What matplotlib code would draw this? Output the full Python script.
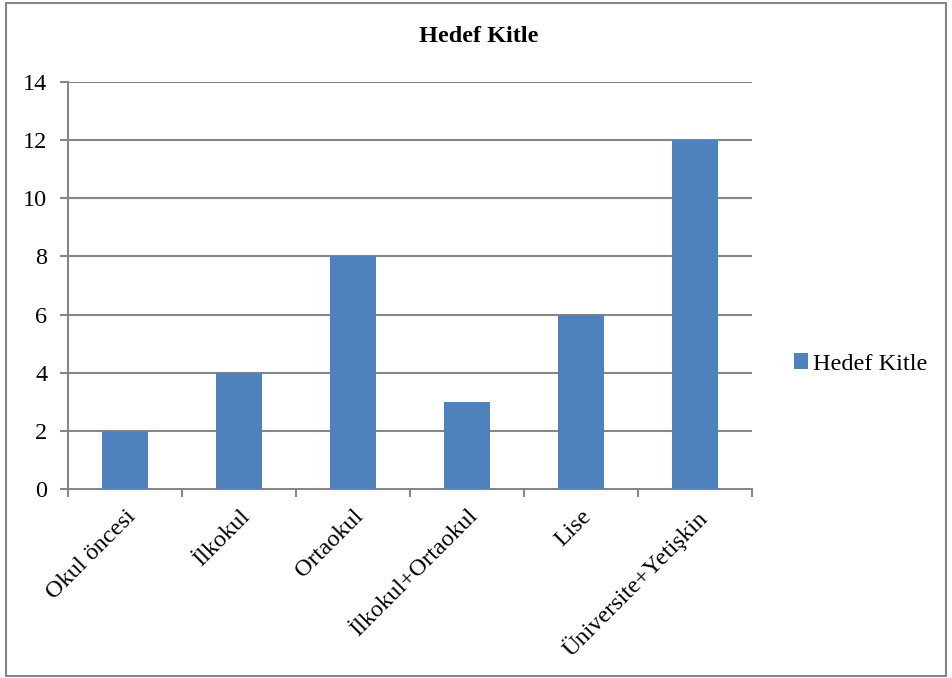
import matplotlib.pyplot as plt
from matplotlib.patches import Rectangle

categories = ['Okul öncesi', 'İlkokul', 'Ortaokul', 'İlkokul+Ortaokul', 'Lise', 'Üniversite+Yetişkin']
values = [2, 4, 8, 3, 6, 12]
yticks = [0, 2, 4, 6, 8, 10, 12, 14]

plt.rcParams['font.family'] = ['Liberation Serif', 'DejaVu Serif']
bar_color = '#4F81BD'
grid_color = '#868686'
fs = 17.5

fig = plt.figure(figsize=(9.52, 6.78), dpi=100)
ax = fig.add_axes([68/952, 1-489/678, (752-68)/952, (489-82)/678])

x = list(range(len(categories)))
ax.bar(x, values, width=0.4, color=bar_color, zorder=3, label='Hedef Kitle')

ax.set_xlim(-0.5, len(categories) - 0.5)
ax.set_ylim(0, 14)
ax.set_yticks(yticks)
ax.set_yticklabels([str(v) for v in yticks], fontsize=fs)
for v in yticks[1:]:
    ax.axhline(v, color=grid_color, lw=1.5, zorder=1)

# category labels between boundary ticks
ax.set_xticks(x)
ax.set_xticklabels(categories, rotation=45, ha='right', rotation_mode='anchor', fontsize=fs)
ax.tick_params(axis='x', length=0, pad=12)
ax.set_xticks([i - 0.5 for i in range(len(categories) + 1)], minor=True)
ax.tick_params(axis='x', which='minor', length=6, width=1.5, color=grid_color)
ax.tick_params(axis='y', length=6, width=1.5, color=grid_color, pad=9)

for s in ['top', 'right']:
    ax.spines[s].set_visible(False)
for s in ['left', 'bottom']:
    ax.spines[s].set_color(grid_color)
    ax.spines[s].set_linewidth(1.5)

fig.text(479/952, 1-36/678, 'Hedef Kitle', ha='center', va='center', fontsize=fs, fontweight='bold')

leg = fig.legend(loc='center left', bbox_to_anchor=(772/952, 1-364/678), frameon=False,
                 fontsize=fs, handlelength=0.6, handleheight=0.6, handletextpad=0.2)

fig.patches.append(Rectangle((6/952, 2/678), 940/952, 673/678, transform=fig.transFigure,
                             fill=False, edgecolor=grid_color, lw=1.5))

fig.savefig('out.png', dpi=100)
